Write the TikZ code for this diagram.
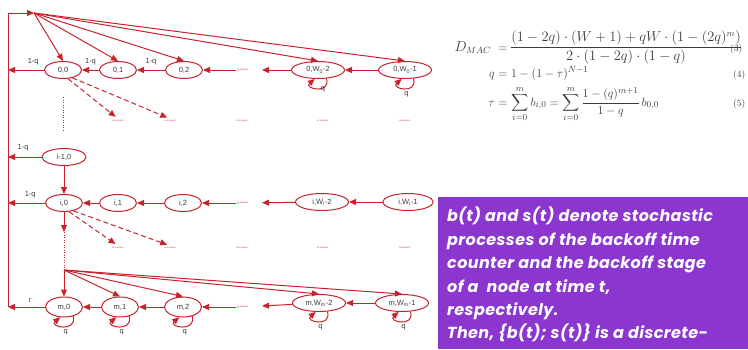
\documentclass[tikz,border=0pt]{standalone}
\usepackage{amsmath}
\usepackage{fontspec}
\setsansfont{Liberation Sans}
\newfontfamily\notefont{Poppins}[LetterSpace=2.5]
\usetikzlibrary{arrows.meta,positioning,shapes.geometric}
\definecolor{chainred}{HTML}{C8232C}
\definecolor{inkgrey}{HTML}{3C3C3C}
\definecolor{notepurple}{HTML}{8C36D0}
\tikzset{
  % ---- states ---------------------------------------------------------
  st/.style={
    ellipse, draw=chainred, line width=1pt, fill=white,
    minimum width=37pt, minimum height=17pt, inner sep=0pt,
    font=\sffamily\fontsize{7.5}{8}\selectfont, text=inkgrey},
  stwide/.style={st, minimum width=53pt},
  elide/.style={font=\sffamily\fontsize{7}{7}\selectfont, text=chainred, inner sep=1pt},
  plab/.style={font=\sffamily\fontsize{7.5}{8}\selectfont, text=inkgrey, inner sep=1pt},
  % ---- connectors -----------------------------------------------------
  tr/.style={-{Triangle[length=7pt,width=6pt]}, draw=chainred, line width=1pt},
  trdash/.style={tr, dash pattern=on 5pt off 3pt},
  trdot/.style={draw=chainred, line width=1pt, dash pattern=on 1pt off 1.5pt},
  % ---- equations and note ---------------------------------------------
  eq/.style={font=\fontsize{12.5}{15}\selectfont, text=inkgrey, inner sep=0pt, anchor=base},
  eqbig/.style={eq, font=\fontsize{13.4}{16}\selectfont},
  eqno/.style={font=\fontsize{9.5}{10}\selectfont, text=inkgrey, inner sep=0pt, anchor=base west},
  note/.style={font=\notefont\bfseries\itshape\fontsize{16}{23.4}\selectfont,
    text=white, align=left, inner sep=0pt, anchor=north west},
}

\begin{document}
\begin{tikzpicture}[x=1pt, y=1pt]
\useasboundingbox (0,0) rectangle (748,-349);

% ---- stage 0 ----------------------------------------------------------
\node[st] (n00) at (63,-70) {0,0};
\node[st] (n01) at (118,-70) {0,1};
\node[st] (n02) at (184,-70) {0,2};
\node[elide] (d0) at (243,-70) {{-}{-}{-}{-}{-}};
\node[stwide] (n0a) at (318,-70) {0,W\textsubscript{0}-2};
\node[stwide] (n0b) at (405,-70) {0,W\textsubscript{0}-1};

% ---- stages i-1 and i -------------------------------------------------
\node[st, minimum width=44pt] (nim1) at (64,-157) {i-1,0};
\node[st] (ni0) at (64,-203) {i,0};
\node[st] (ni1) at (118,-203) {i,1};
\node[st] (ni2) at (183,-203) {i,2};
\node[elide] (di) at (243,-203) {{-}{-}{-}{-}{-}};
\node[stwide] (nia) at (322,-202) {i,W\textsubscript{i}-2};
\node[stwide, minimum width=50pt] (nib) at (408,-202) {i,W\textsubscript{i}-1};

% ---- stage m ----------------------------------------------------------
\node[st, minimum height=20pt] (nm0) at (64,-307) {m,0};
\node[st, minimum height=20pt] (nm1) at (120,-307) {m,1};
\node[st, minimum height=20pt] (nm2) at (183,-307) {m,2};
\node[elide] (dm) at (243,-307) {{-}{-}{-}{-}{-}};
\node[stwide] (nma) at (319,-303) {m,W\textsubscript{m}-2};
\node[stwide] (nmb) at (402,-303) {m,W\textsubscript{m}-1};

% ---- elided rows ------------------------------------------------------
\foreach \x [count=\k] in {118,170,242,323,405}{
  \node[elide] (u\k) at (\x,-121) {{-}{-}{-}{-}{-}};
  \node[elide] (v\k) at (\x,-248) {{-}{-}{-}{-}{-}};
}

% ---- rail and hubs ----------------------------------------------------
\coordinate (railtop) at (8,-13);
\coordinate (railbot) at (8,-307);
\coordinate (hub0) at (34,-13);
\coordinate (hubm) at (64,-270);
\coordinate (istop) at (64,-232);
\coordinate (vtop) at (63,-97);
\coordinate (vbot) at (63,-130);

\draw[tr] (railbot) -- (railtop) -- (hub0);
\foreach \t in {n00,n01,n02,n0a,n0b}
  \draw[tr] (hub0) -- (\t.north);

% ---- stage 0 transitions ----------------------------------------------
\draw[tr] (n00) -- node[plab, above=3pt, pos=0.3] {1-q} (n00 -| railtop);
\draw[tr] (n01) -- node[plab, above=3pt] {1-q} (n00);
\draw[tr] (n02) -- node[plab, above=3pt] {1-q} (n01);
\draw[tr] (d0) -- (n02);
\draw[tr, shorten >=12pt] (n0a) -- (d0);
\draw[tr] (n0b) -- (n0a);
\draw[trdash, shorten >=3pt] (n00.-60) -- (u1.north);
\draw[trdash, shorten >=3pt] (n00.-40) -- (u2.north);
\draw[trdot] (vtop) -- (vbot);

% ---- stage i transitions ----------------------------------------------
\draw[tr] (nim1) -- node[plab, above=4pt, pos=0.55] {1-q} (nim1 -| railtop);
\draw[tr] (nim1) -- (ni0);
\draw[tr] (ni0) -- node[plab, above=3pt, pos=0.4] {1-q} (ni0 -| railtop);
\draw[tr] (ni1) -- (ni0);
\draw[tr] (ni2) -- (ni1);
\draw[tr] (di) -- (ni2);
\draw[tr, shorten >=12pt] (nia) -- (di);
\draw[tr] (nib) -- (nia);
\draw[trdash, shorten >=3pt] (ni0.-60) -- (v1.north);
\draw[trdash, shorten >=3pt] (ni0.-40) -- (v2.north);
\draw[tr] (ni0) -- (istop);
\draw[trdot] (istop) -- (hubm);

% ---- stage m transitions ----------------------------------------------
\foreach \t in {nm0,nm1,nm2,nma,nmb}
  \draw[tr] (hubm) -- (\t.north);
\draw[tr] (nm0) -- node[plab, above=3pt, pos=0.4] {r} (railbot);
\draw[tr] (nm1) -- (nm0);
\draw[tr] (nm2) -- (nm1);
\draw[tr] (dm) -- (nm2);
\draw[tr, shorten >=12pt] (nma) -- (dm);
\draw[tr] (nmb) -- (nma);

% ---- self loops -------------------------------------------------------
\foreach \s/\anc in {n0a/west, n0b/north, nm0/north, nm1/north, nm2/north, nma/north, nmb/north}{
  \draw[tr] (\s.-45) .. controls +(-75:17pt) and +(-140:15pt) ..
    node[plab, anchor=\anc, pos=0.45, yshift=-1pt] {q} (\s.-110);
}

% ---- equations --------------------------------------------------------
\node[eqbig, anchor=base east] (dlhs) at (491,-51) {$D_{MAC}$};
\node[eq] (deq) at (503,-51) {$=$};
\node[eqbig, anchor=base west] (drhs) at (510,-51)
  {$\dfrac{(1-2q)\cdot(W+1)+qW\cdot(1-(2q)^m)}{2\cdot(1-2q)\cdot(1-q)}$};
\node[eqno] (no3) at (730,-51) {(3)};

\node[eq, anchor=base east] (qlhs) at (495,-77) {$q$};
\node[eq] (qeq) at (503,-77) {$=$};
\node[eq, anchor=base west] (qrhs) at (511,-77) {$1-(1-\tau)^{N-1}$};
\node[eqno] (no4) at (733,-77) {(4)};

\node[eq, anchor=base east] (tlhs) at (495,-106) {$\tau$};
\node[eq] (teq) at (503,-106) {$=$};
\node[eq, anchor=base west] (trhs) at (511,-106)
  {$\displaystyle\sum_{i=0}^{m} b_{i,0}=\sum_{i=0}^{m}\frac{1-(q)^{m+1}}{1-q}\,b_{0,0}$};
\node[eqno] (no5) at (733,-106) {(5)};

% ---- note -------------------------------------------------------------
\fill[notepurple] (438,-197) rectangle (748,-349);
\node[note] (note) at (447,-207) {b(t) and s(t) denote stochastic\\
  processes of the backoff time\\counter and the backoff stage\\
  of a\ \ node at time t,\\respectively.\\Then, \{b(t); s(t)\} is a discrete-};

\end{tikzpicture}
\end{document}
